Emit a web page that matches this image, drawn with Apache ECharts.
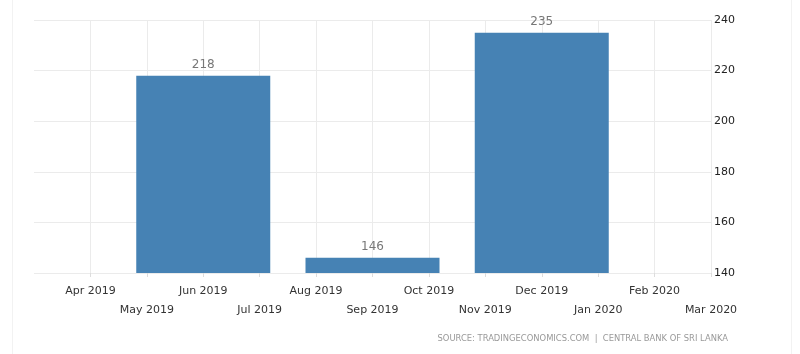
<!DOCTYPE html>
<html><head><meta charset="utf-8">
<script src="https://cdn.jsdelivr.net/npm/echarts@6/dist/echarts.min.js"></script>
<style>html,body{margin:0;padding:0;background:#fff}#c{width:800px;height:354px}</style>
</head><body><div id="c"></div>
<script>
var months = ['Mar 2019','Apr 2019','May 2019','Jun 2019','Jul 2019','Aug 2019','Sep 2019','Oct 2019','Nov 2019','Dec 2019','Jan 2020','Feb 2020','Mar 2020'];
var values = [null,null,null,218,null,null,146,null,null,235,null,null,null];
var yTicks = [140,160,180,200,220,240];

var chart = echarts.init(document.getElementById('c'));
chart.setOption({
  animation:false,
  backgroundColor:'#fff',
  grid:{left:34,right:89,top:20,bottom:81},
  xAxis:{
    type:'category', data:months, boundaryGap:false,
    axisLine:{show:false},
    axisTick:{show:true,length:4,interval:function(i){return i!==0;},lineStyle:{color:'#ddd'}},
    splitLine:{show:true,interval:function(i){return i!==0;},lineStyle:{color:'#ebebeb',width:1}},
    axisLabel:{
      interval:0, margin:9,
      fontFamily:'Verdana, DejaVu Sans, sans-serif', fontSize:11, color:'#333', lineHeight:19,
      formatter:function(v,i){ if(i===0) return ''; return (i%2===1)? v : '\n'+v; }
    }
  },
  yAxis:{
    type:'value', position:'right', min:yTicks[0], max:yTicks[yTicks.length-1], interval:20,
    axisLine:{show:false}, axisTick:{show:false},
    splitLine:{lineStyle:{color:'#ebebeb'}},
    axisLabel:{margin:3, fontFamily:'Verdana, DejaVu Sans, sans-serif', fontSize:11, color:'#222'}
  },
  series:[{
    type:'bar', data:values, barWidth:134,
    itemStyle:{color:'#4682b4'},
    label:{show:true, position:'top', distance:5, color:'#777', fontFamily:'Verdana, DejaVu Sans, sans-serif', fontSize:12}
  }],
  graphic:[
    {type:'text', right:72, top:335, style:{text:'SOURCE: TRADINGECONOMICS.COM  |  CENTRAL BANK OF SRI LANKA', fill:'#999', font:'8.4px Verdana, DejaVu Sans, sans-serif'}},
    {type:'line', shape:{x1:12.5,y1:0,x2:12.5,y2:354}, style:{stroke:'#f2f2f2',lineWidth:1}},
    {type:'line', shape:{x1:791.5,y1:0,x2:791.5,y2:354}, style:{stroke:'#f2f2f2',lineWidth:1}}
  ]
});
</script></body></html>
